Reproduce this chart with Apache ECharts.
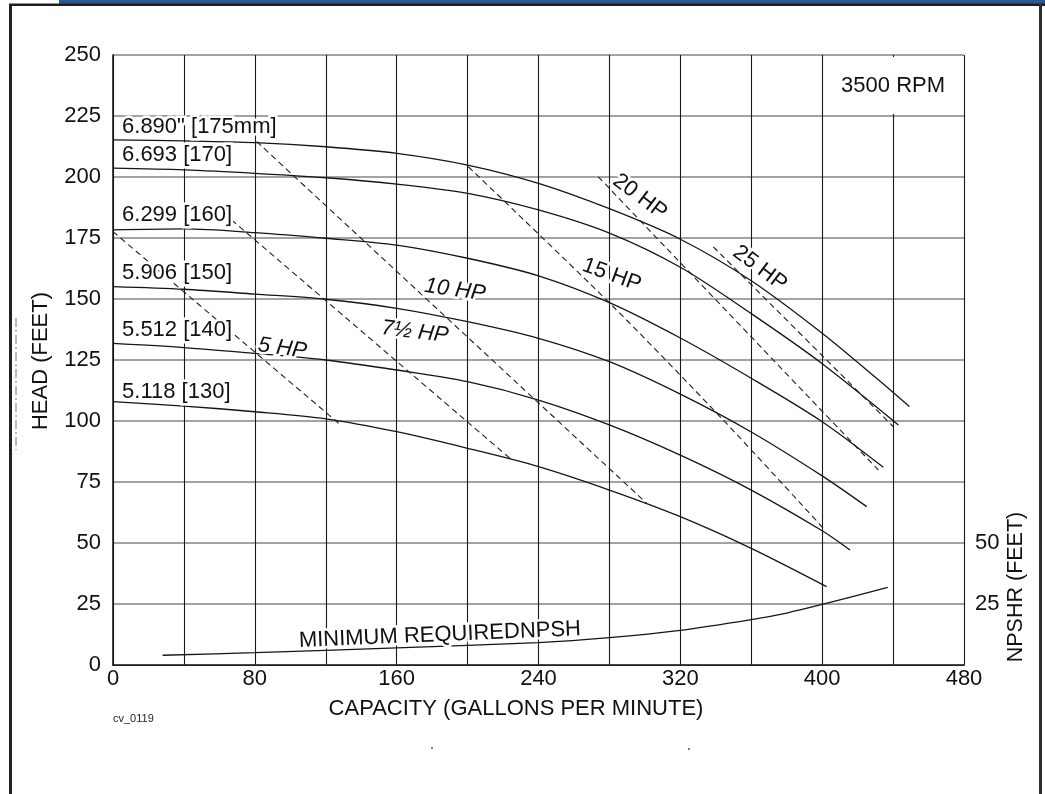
<!DOCTYPE html>
<html>
<head>
<meta charset="utf-8">
<script src="https://cdn.jsdelivr.net/npm/echarts@6/dist/echarts.min.js"></script>
<style>
html,body{margin:0;padding:0;background:#fff;}
#chart{width:1045px;height:794px;}
</style>
</head>
<body>
<div id="chart"></div>
<script>
// Head-capacity curves for six impeller trims at 3500 RPM

// Impeller trim names
const trimNames = ['6.890" [175mm]', '6.693 [170]', '6.299 [160]', '5.906 [150]', '5.512 [140]', '5.118 [130]'];

// Capacity (GPM) and head (ft) along each trim curve
const gpm175  = [0, 40, 80, 120, 160, 200, 240, 280, 320, 360, 400, 430.7, 449.2];
const head175 = [215.2, 214.8, 214.1, 212.4, 209.7, 204.9, 197.4, 187, 174.5, 157.5, 136, 117.5, 105.9];
const gpm170  = [0, 40, 80, 120, 160, 200, 240, 280, 320, 360, 400, 443];
const head170 = [203.6, 202.9, 201.5, 199.7, 197.1, 193.3, 186.5, 177, 163, 144, 123.5, 98.4];
const gpm160  = [0, 40, 80, 120, 160, 200, 240, 280, 320, 360, 400, 434.5];
const head160 = [178.3, 178.7, 177.2, 174.9, 172.1, 166.7, 159.5, 148.5, 134, 117.5, 99.7, 81];
const gpm150  = [0, 40, 80, 120, 160, 200, 240, 280, 320, 360, 400, 425.1];
const head150 = [155.1, 154, 152, 149.9, 146.2, 140.7, 133.9, 124.3, 111, 95.5, 77.5, 64.9];
const gpm140  = [0, 40, 80, 120, 160, 200, 240, 280, 320, 360, 400, 415.7];
const head140 = [131.8, 130.1, 127.7, 125, 120.9, 116.1, 108.6, 98.4, 86, 71.7, 55, 47.1];
const gpm130  = [0, 40, 80, 120, 160, 200, 240, 280, 320, 360, 402.5];
const head130 = [107.9, 106.1, 103.8, 100.9, 95.6, 88.8, 81.3, 71.7, 60.8, 47.8, 32.1];

// Minimum required NPSH (ft)
const npshGpm  = [28, 80, 160, 240, 280, 320, 360, 380, 400, 437];
const npshFeet = [4.0, 5.05, 7.0, 9.2, 11.2, 14.2, 18.6, 21.3, 24.8, 31.8];

// Motor horsepower limit lines
const hpNames = ['5 HP', '7½ HP', '10 HP', '15 HP', '20 HP', '25 HP'];
const hp5Gpm  = [0, 129],        hp5Head  = [177.6, 98.0];
const hp75Gpm = [66.9, 223.9],   hp75Head = [182.4, 84.7];
const hp10Gpm = [81.1, 301],     hp10Head = [214.5, 66.3];
const hp15Gpm = [200.4, 280.3, 344.2, 401.6], hp15Head = [204.2, 148.2, 100.4, 55.3];
const hp20Gpm = [273.7, 431.7],  hp20Head = [200.1, 79.9];
const hp25Gpm = [338.6, 440.1],  hp25Head = [171.4, 97.7];

// Axis ticks
const capacityTicks = [0, 80, 160, 240, 320, 400, 480];
const npshTicks = [25, 50];

const zip = (xs, ys) => xs.map((x, i) => [x, ys[i]]);
const FONT = '"Liberation Sans", Arial, sans-serif';

const trimCurves = [
  zip(gpm175, head175), zip(gpm170, head170), zip(gpm160, head160),
  zip(gpm150, head150), zip(gpm140, head140), zip(gpm130, head130)
];
const hpLines = [
  zip(hp5Gpm, hp5Head), zip(hp75Gpm, hp75Head), zip(hp10Gpm, hp10Head),
  zip(hp15Gpm, hp15Head), zip(hp20Gpm, hp20Head), zip(hp25Gpm, hp25Head)
];

const series = [];
trimCurves.forEach((d, i) => series.push({
  name: trimNames[i], type: 'line', data: d, smooth: 0.3, showSymbol: false,
  lineStyle: { color: '#151515', width: 1.3 }, silent: true,
  markArea: i === 0 ? {
    silent: true, itemStyle: { color: '#fff' }, label: { show: false },
    data: [[{ coord: [401.5, 225.8] }, { coord: [478.5, 249.2] }]]
  } : undefined
}));
hpLines.forEach((d, i) => series.push({
  name: hpNames[i], type: 'line', data: d, smooth: 0.3, showSymbol: false,
  lineStyle: { color: '#1e1e1e', width: 1.1, type: [6, 4] }, silent: true
}));
series.push({
  name: 'NPSH', type: 'line', data: zip(npshGpm, npshFeet), smooth: 0.3, showSymbol: false,
  lineStyle: { color: '#151515', width: 1.3 }, silent: true
});

const chart = echarts.init(document.getElementById('chart'), null, { renderer: 'canvas' });
chart.setOption({
  animation: false,
  backgroundColor: '#fff',
  grid: { left: 113, top: 55, width: 851, height: 610, containLabel: false },
  xAxis: [{
    type: 'value', min: 0, max: 480, interval: 40,
    axisLine: { show: true, lineStyle: { color: '#2a2a2a', width: 1.6 } },
    axisTick: { show: false },
    axisLabel: {
      margin: 3, fontSize: 22, color: '#111', fontFamily: FONT,
      formatter: v => capacityTicks.includes(v) ? String(v) : ''
    },
    splitLine: { show: true, lineStyle: { color: '#1a1a1a', width: 1.1 } }
  }, {
    type: 'value', position: 'top', min: 0, max: 480, interval: 40,
    axisLine: { show: true, lineStyle: { color: '#222', width: 1.2 } },
    axisTick: { show: false }, axisLabel: { show: false }, splitLine: { show: false }
  }],
  yAxis: [{
    type: 'value', min: 0, max: 250, interval: 25,
    axisLine: { show: true, lineStyle: { color: '#111', width: 1.5 } },
    axisTick: { show: false },
    axisLabel: { margin: 12, fontSize: 22, color: '#111', fontFamily: FONT },
    splitLine: { show: true, lineStyle: { color: '#858585', width: 1.6 } }
  }, {
    type: 'value', position: 'right', min: 0, max: 250, interval: 25,
    axisLine: { show: false }, axisTick: { show: false },
    axisLabel: {
      margin: 11, fontSize: 22, color: '#111', fontFamily: FONT,
      formatter: v => npshTicks.includes(v) ? String(v) : ''
    },
    splitLine: { show: false }
  }],
  series: series
});

// Text annotations anchored in data coordinates
const trimLabelPos = [[5.1, 220.6], [5.1, 209], [5.1, 184.4], [5.1, 160.5], [5.1, 137.3], [5.1, 112]];
const hpLabelPos = [
  { at: [95.5, 129.8], rot: -8, italic: true },
  { at: [170.3, 136.5], rot: -7, italic: true },
  { at: [192.9, 153.7], rot: -8, italic: true },
  { at: [281.3, 159.8], rot: -20, italic: false },
  { at: [297.2, 191.9], rot: -37, italic: false },
  { at: [364.9, 162.6], rot: -37, italic: false }
];

function haloText(text, x, y, opts) {
  const font = (opts.italic ? 'italic ' : '') + (opts.size || 22) + 'px ' + FONT;
  const base = {
    type: 'text', x: x, y: y, rotation: (opts.rot || 0) * Math.PI / 180, silent: true
  };
  const st = { text: text, x: 0, y: 0, align: opts.align || 'center', verticalAlign: 'middle', font: font };
  return [
    Object.assign({}, base, { z: 50, style: Object.assign({}, st, { fill: '#fff', stroke: '#fff', lineWidth: 5 }) }),
    Object.assign({}, base, { z: 51, style: Object.assign({}, st, { fill: '#111' }) })
  ];
}

const toPx = p => chart.convertToPixel({ gridIndex: 0 }, p);
const graphics = [
  // page frame
  { type: 'rect', shape: { x: 59, y: 0, width: 986, height: 4 }, style: { fill: '#2b5797' }, silent: true },
  { type: 'rect', shape: { x: 9, y: 3.5, width: 1036, height: 2.5 }, style: { fill: '#1e1e1e' }, silent: true },
  { type: 'rect', shape: { x: 9, y: 4, width: 3, height: 790 }, style: { fill: '#222' }, silent: true },
  { type: 'rect', shape: { x: 1039, y: 4, width: 3, height: 790 }, style: { fill: '#2e2e2e' }, silent: true },
  { type: 'line', shape: { x1: 16, y1: 318, x2: 16, y2: 450 }, style: { stroke: '#777', lineWidth: 1, lineDash: [9, 3, 2, 3] }, silent: true },
  { type: 'circle', shape: { cx: 432, cy: 748, r: 0.9 }, style: { fill: '#444' }, silent: true },
  { type: 'circle', shape: { cx: 689, cy: 749, r: 0.9 }, style: { fill: '#444' }, silent: true },
  // axis titles
  { type: 'text', x: 41, y: 361, rotation: Math.PI / 2, silent: true,
    style: { text: 'HEAD (FEET)', x: 0, y: 0, align: 'center', verticalAlign: 'middle', font: '22px ' + FONT, fill: '#111' } },
  { type: 'text', x: 516, y: 709, silent: true,
    style: { text: 'CAPACITY (GALLONS PER MINUTE)', x: 0, y: 0, align: 'center', verticalAlign: 'middle', font: '22px ' + FONT, fill: '#111' } },
  { type: 'text', x: 1016, y: 587, rotation: Math.PI / 2, silent: true,
    style: { text: 'NPSHR (FEET)', x: 0, y: 0, align: 'center', verticalAlign: 'middle', font: '21.5px ' + FONT, fill: '#111' } },
  { type: 'text', x: 113, y: 719, silent: true,
    style: { text: 'cv_0119', x: 0, y: 0, align: 'left', verticalAlign: 'middle', font: '11px ' + FONT, fill: '#222' } }
];

const rpm = toPx([440, 237.5]);
graphics.push(...haloText('3500 RPM', rpm[0], rpm[1], { size: 22 }));
trimNames.forEach((t, i) => {
  const p = toPx(trimLabelPos[i]);
  graphics.push(...haloText(t, p[0], p[1], { align: 'left', size: 22 }));
});
hpNames.forEach((t, i) => {
  const p = toPx(hpLabelPos[i].at);
  graphics.push(...haloText(t, p[0], p[1], { rot: hpLabelPos[i].rot, italic: hpLabelPos[i].italic, size: 22 }));
});
const np = toPx([184.4, 12.3]);
graphics.push(...haloText('MINIMUM REQUIREDNPSH', np[0], np[1], { rot: 2.4, size: 22 }));

chart.setOption({ graphic: graphics });
</script>
</body>
</html>
